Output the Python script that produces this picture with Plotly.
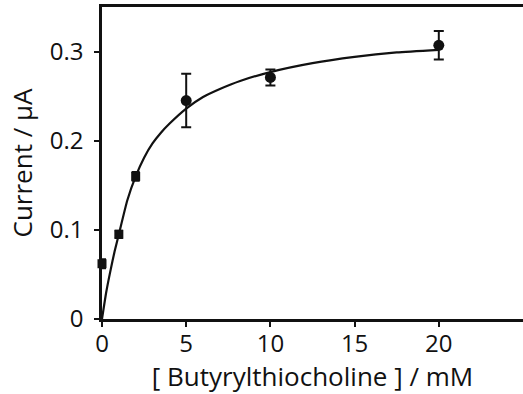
import plotly.graph_objects as go

# measured data
sq_x = [0, 1, 2]
sq_y = [0.062, 0.095, 0.160]
sq_err = [0.005, 0.004, 0.005]

ci_x = [5, 10, 20]
ci_y = [0.245, 0.271, 0.307]
ci_err = [0.030, 0.009, 0.016]

# fitted curve
fit_x = [0, 0.25, 0.5, 0.75, 1, 1.5, 2, 2.5, 3, 3.5, 4, 5, 6, 7, 8.2, 10, 12.5, 15, 17.5, 20]
fit_y = [0, 0.030, 0.054, 0.076, 0.095, 0.133, 0.160, 0.181, 0.197, 0.209, 0.219, 0.236,
         0.249, 0.258, 0.267, 0.277, 0.287, 0.294, 0.299, 0.302]

x_ticks = [0, 5, 10, 15, 20]
y_ticks = [0, 0.1, 0.2, 0.3]
y_tick_text = ["0", "0.1", "0.2", "0.3"]

FONT = "Open Sans"
INK = "#111111"

fig = go.Figure()
fig.add_trace(go.Scatter(x=fit_x, y=fit_y, mode="lines",
                         line=dict(color=INK, width=2.2, shape="spline", smoothing=0.5),
                         hoverinfo="skip", showlegend=False))
fig.add_trace(go.Scatter(x=sq_x, y=sq_y, mode="markers", cliponaxis=False,
                         marker=dict(symbol="square", size=9, color=INK),
                         error_y=dict(type="data", array=sq_err, color=INK, thickness=2, width=4),
                         showlegend=False))
fig.add_trace(go.Scatter(x=ci_x, y=ci_y, mode="markers", cliponaxis=False,
                         marker=dict(symbol="circle", size=11, color=INK),
                         error_y=dict(type="data", array=ci_err, color=INK, thickness=2, width=5),
                         showlegend=False))

fig.update_layout(
    width=523, height=394,
    margin=dict(l=102, r=0, t=7, b=75),
    plot_bgcolor="white", paper_bgcolor="white",
    font=dict(family=FONT, size=24, color=INK),
    xaxis=dict(range=[0, 25], tickvals=x_ticks, ticks="outside", ticklen=5, tickwidth=2,
               tickcolor=INK, showline=True, linecolor=INK, linewidth=2.5, mirror=True,
               showgrid=False, zeroline=False, ticklabelstandoff=-4,
               title=dict(text="[ Butyrylthiocholine ] / mM", standoff=6, font=dict(size=26)),
               tickfont=dict(size=24)),
    yaxis=dict(range=[0, 0.35], tickvals=y_ticks, ticktext=y_tick_text, ticks="outside", ticklen=5,
               tickwidth=2, tickcolor=INK, showline=True, linecolor=INK, linewidth=2.5,
               showgrid=False, zeroline=False, ticklabelstandoff=6,
               title=dict(text="Current / µA", standoff=10, font=dict(size=26)),
               tickfont=dict(size=24)),
)

fig.write_html("out.html", config={"displayModeBar": False},
               post_script="document.body.style.margin='0px';")
